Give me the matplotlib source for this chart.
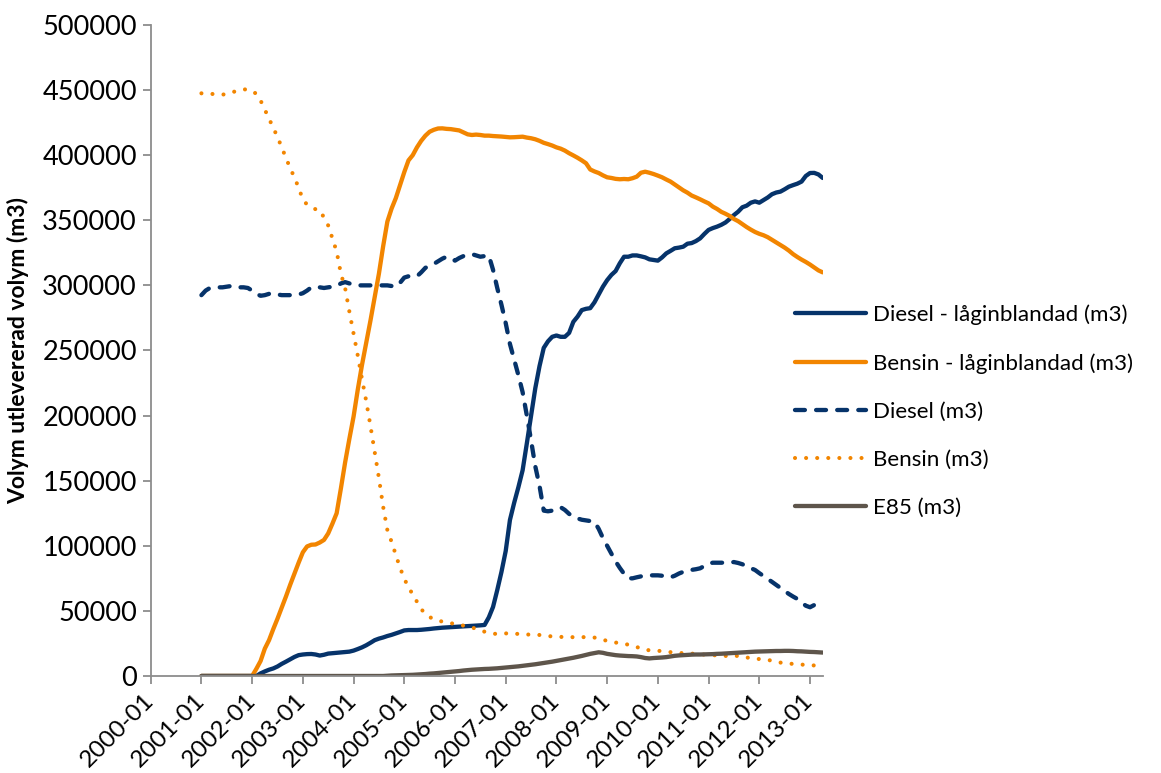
import numpy as np
import matplotlib
matplotlib.use("Agg")
import matplotlib.pyplot as plt
from matplotlib.transforms import ScaledTranslation

plt.rcParams['font.family'] = ['Lato', 'DejaVu Sans']

# Month categories on the x axis: 2000-01 .. 2013-04
months = [f"{y}-{m:02d}" for y in range(2000, 2014) for m in range(1, 13)][:160]
tick_labels = ["2000-01", "2001-01", "2002-01", "2003-01", "2004-01", "2005-01", "2006-01",
               "2007-01", "2008-01", "2009-01", "2010-01", "2011-01", "2012-01", "2013-01"]
series_start = "2001-01"

# Monthly delivered volumes (m3), 2001-01 .. 2013-04, one row per year
diesel_lag = [
    0, 0, 0, 0, 0, 0, 0, 0, 0, 0, 0, 0,
    0, 0, 2000, 3500, 4800, 5800, 7300, 9300, 11000, 12800, 14600, 16000,
    16500, 16800, 16900, 16500, 15700, 16300, 17200, 17500, 17800, 18100, 18400, 18700,
    19500, 20700, 22000, 23600, 25500, 27500, 28700, 29600, 30700, 31600, 32700, 33800,
    35000, 35300, 35300, 35300, 35500, 35800, 36100, 36500, 36800, 37100, 37300, 37500,
    37700, 37900, 38100, 38300, 38500, 38700, 38900, 39200, 45000, 53000, 66000, 80000,
    96000, 119800, 133000, 145000, 158000, 178700, 200000, 221000, 238000, 252000, 257000, 260500,
    261500, 260500, 260500, 263500, 272000, 276000, 281000, 282000, 282500, 287000, 293000, 299000,
    304000, 308000, 311000, 317000, 322000, 322000, 323000, 323000, 322300, 321500, 320000, 319500,
    319000, 321500, 324600, 326500, 328500, 329000, 329700, 332000, 332500, 334000, 336100, 339500,
    342600, 344000, 345100, 346500, 348300, 351000, 354000, 356600, 360000, 361200, 363500, 364500,
    363500, 365500, 367500, 370000, 371300, 372000, 373800, 375800, 377000, 378100, 379700, 384000,
    386300, 386400, 385200, 382500,
]

bensin_lag = [
    0, 0, 0, 0, 0, 0, 0, 0, 0, 0, 0, 0,
    0, 5500, 11500, 21000, 27500, 36000, 44000, 52500, 61000, 70000, 78500, 87000,
    95000, 99500, 100800, 101000, 102500, 104500, 109500, 117000, 125000, 144000, 164000, 182000,
    199200, 220000, 239000, 256000, 273000, 291000, 309000, 330000, 349000, 359000, 367000, 377000,
    387000, 396000, 400000, 406000, 411000, 415000, 418000, 419500, 420500, 420600, 420200, 420000,
    419500, 419000, 417500, 416000, 415500, 415800, 415500, 415000, 415000, 414700, 414500, 414300,
    414000, 413700, 413800, 414000, 414200, 413500, 413000, 412200, 411000, 409500, 408500, 407400,
    406000, 405000, 403500, 401500, 399800, 398000, 396000, 393800, 389000, 387500, 386300, 384500,
    383000, 382500, 381800, 381500, 381700, 381500, 382300, 383500, 386500, 387300, 386500, 385500,
    384300, 383000, 381300, 379700, 377500, 375300, 373000, 371200, 369000, 367600, 366100, 364500,
    363000, 360500, 358700, 356500, 355000, 353300, 351000, 349300, 347000, 344800, 342800, 341000,
    339600, 338500, 337000, 335000, 333000, 331000, 329000, 326700, 324000, 321800, 319800, 318000,
    316000, 313700, 311500, 310000,
]

diesel = [
    292500, 296000, 298000, 298500, 298500, 298500, 299000, 299500, 299500, 298500, 298500, 298000,
    296000, 293500, 292000, 292500, 293500, 294000, 293000, 292500, 292500, 292500, 292500, 293000,
    294000, 296000, 298500, 299000, 298500, 298000, 298500, 299000, 299500, 301500, 302500, 301500,
    300500, 300000, 300000, 300000, 300000, 300000, 300000, 300000, 300000, 299500, 299000, 302000,
    306000, 307000, 307000, 307000, 310000, 313500, 315000, 316500, 318500, 320500, 322000, 321000,
    319000, 321000, 322500, 323500, 324000, 323000, 322000, 322500, 323000, 312000, 298000, 285000,
    271000, 255000, 243000, 231000, 218000, 200000, 181000, 161000, 146000, 127000, 126500, 127000,
    128500, 129600, 127500, 124500, 122500, 121000, 120000, 119500, 119000, 118500, 113000, 106000,
    100000, 94000, 88000, 83000, 78500, 75000, 75000, 75800, 76500, 77000, 77300, 77300,
    77300, 77000, 76000, 75800, 77000, 78700, 80000, 81000, 81500, 82000, 82700, 84500,
    86300, 87000, 87000, 87000, 87000, 87200, 87500, 86800, 85800, 84300, 82800, 81400,
    79000, 76800, 74500, 72300, 70000, 67700, 65300, 63000, 61000, 59200, 56500, 54000,
    52800, 54500, 56500, 58000,
]

bensin = [
    447500, 447500, 447000, 447000, 446500, 446500, 447000, 448000, 449000, 450000, 450500, 450500,
    449500, 447000, 442000, 435000, 428000, 421000, 414000, 406000, 398000, 390000, 383000, 375000,
    366000, 362000, 360000, 358500, 358000, 352000, 346000, 336000, 326000, 309000, 298000, 280000,
    263000, 246000, 228000, 211000, 192000, 172000, 152000, 130000, 112000, 103000, 93000, 83000,
    75000, 67600, 63000, 57000, 51300, 47900, 45200, 43800, 42500, 41800, 41200, 40500,
    40000, 39300, 38700, 38000, 37200, 36300, 35300, 34000, 33200, 32500, 32300, 32500,
    32700, 32700, 32500, 32300, 32100, 31900, 31700, 31600, 31500, 31300, 30800, 30300,
    30100, 30000, 30000, 29900, 29800, 29700, 29800, 29900, 30000, 29500, 28800, 27800,
    27000, 26300, 25700, 25100, 24600, 24100, 23500, 22300, 21000, 20000, 19800, 19600,
    19400, 19000, 18600, 18300, 18000, 17700, 17500, 17300, 17200, 16900, 16700, 16400,
    16200, 16000, 15800, 15500, 15400, 15400, 15400, 15400, 14800, 14200, 13800, 13400,
    13000, 12700, 12300, 11800, 11000, 10300, 9700, 9500, 9300, 9200, 8800, 8400,
    8200, 8100, 8000, 8000,
]

e85 = [
    0, 0, 0, 0, 0, 0, 0, 0, 0, 0, 0, 0,
    0, 0, 0, 0, 0, 0, 0, 0, 0, 0, 0, 0,
    0, 0, 0, 0, 0, 0, 0, 0, 0, 0, 0, 0,
    0, 0, 0, 0, 0, 0, 0, 0, 200, 400, 500, 600,
    700, 800, 900, 1100, 1300, 1500, 1800, 2000, 2300, 2600, 2900, 3200,
    3500, 3800, 4200, 4500, 4800, 5000, 5200, 5400, 5500, 5700, 5900, 6200,
    6500, 6800, 7100, 7400, 7800, 8200, 8600, 9000, 9500, 10000, 10500, 11000,
    11600, 12200, 12800, 13400, 14000, 14700, 15400, 16200, 17000, 17600, 18200, 17800,
    17000, 16500, 16000, 15700, 15500, 15300, 15200, 15000, 14500, 13800, 13500, 13800,
    14000, 14200, 14500, 15000, 15500, 15800, 16000, 16200, 16400, 16500, 16500, 16600,
    16700, 16800, 17000, 17100, 17300, 17500, 17700, 17900, 18100, 18300, 18500, 18700,
    18800, 18900, 19000, 19100, 19200, 19200, 19300, 19300, 19200, 19000, 18900, 18700,
    18500, 18400, 18200, 18000,
]

series_names = ["Diesel - låginblandad (m3)", "Bensin - låginblandad (m3)",
                "Diesel (m3)", "Bensin (m3)", "E85 (m3)"]

NAVY = "#06336A"
ORANGE = "#F28500"
BROWN = "#5E554B"

fig = plt.figure(figsize=(11.61, 7.73), dpi=100)
ax = fig.add_axes([0.1298, 0.1255, 0.5788, 0.8422])

x0 = months.index(series_start)
x = np.arange(x0, x0 + len(diesel))

lw = 3.1
common = dict(solid_joinstyle="round", solid_capstyle="round")
ax.plot(x, diesel_lag, color=NAVY, lw=lw, label=series_names[0], **common)
ax.plot(x, bensin_lag, color=ORANGE, lw=lw, label=series_names[1], **common)
ax.plot(x, diesel, color=NAVY, lw=lw, dashes=(2.3, 2.6), dash_capstyle="round",
        dash_joinstyle="round", label=series_names[2])
ax.plot(x, bensin, color=ORANGE, lw=lw * 0.95, dashes=(0.01, 2.7), dash_capstyle="round",
        label=series_names[3])
ax.plot(x, e85, color=BROWN, lw=lw, label=series_names[4], **common)

ax.set_xlim(0, len(months) - 1)
ax.set_ylim(0, 500000)
ax.set_yticks(np.arange(0, 500001, 50000))
ax.set_yticklabels([f"{v:d}" for v in range(0, 500001, 50000)])
ax.set_xticks([months.index(t) for t in tick_labels])
ax.set_xticklabels(tick_labels, rotation=45, ha="right", va="center",
                   rotation_mode="anchor", fontsize=17.5)
# nudge the slanted date labels so their ends sit just right of the ticks
shift = ScaledTranslation(8 / 100, -3 / 100, fig.dpi_scale_trans)
for lab in ax.get_xticklabels():
    lab.set_transform(lab.get_transform() + shift)

for side in ("top", "right"):
    ax.spines[side].set_visible(False)
for side in ("left", "bottom"):
    ax.spines[side].set_color("#8C8C8C")
    ax.spines[side].set_linewidth(1.3)
ax.tick_params(axis="both", colors="#8C8C8C", width=1.3, length=6, labelcolor="black",
               direction="out")
ax.tick_params(axis="y", labelsize=19.5, pad=4)
ax.tick_params(axis="x", pad=9)

ax.set_ylabel("Volym utlevererad volym (m3)", fontsize=16.5, fontweight="bold")
ax.yaxis.set_label_coords(-0.181, 0.5)

leg = fig.legend(loc="center left", bbox_to_anchor=(0.6848, 0.4683), frameon=False,
                 fontsize=16.1, handlelength=3.17, handletextpad=0.3, labelspacing=1.25,
                 borderpad=0, borderaxespad=0)

fig.savefig("out.png", dpi=100)
